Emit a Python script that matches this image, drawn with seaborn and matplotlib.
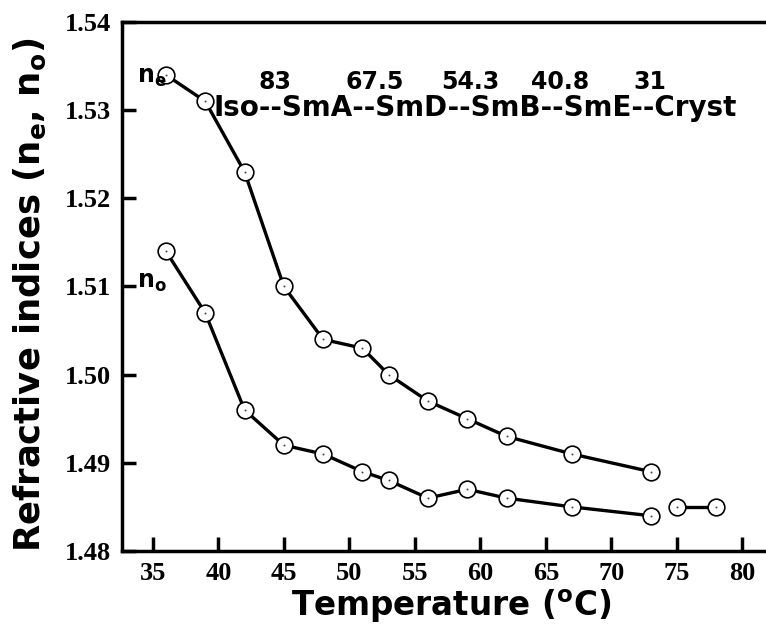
import numpy as np
import pandas as pd
import seaborn as sns
import matplotlib.pyplot as plt

# extraordinary index n_e
temp_ne = [36, 39, 42, 45, 48, 51, 53, 56, 59, 62, 67, 73]
n_e = [1.534, 1.531, 1.523, 1.510, 1.504, 1.503, 1.500, 1.497, 1.495, 1.493, 1.491, 1.489]

# ordinary index n_o (plus isotropic segment)
temp_no = [36, 39, 42, 45, 48, 51, 53, 56, 59, 62, 67, 73]
n_o = [1.514, 1.507, 1.496, 1.492, 1.491, 1.489, 1.488, 1.486, 1.487, 1.486, 1.485, 1.484]
temp_iso = [75, 78]
n_iso = [1.485, 1.485]

trans_temps = ["83", "67.5", "54.3", "40.8", "31"]
trans_x = [44.3, 51.9, 59.2, 66.1, 72.9]
phases = "Iso--SmA--SmD--SmB--SmE--Cryst"

sns.set_style("ticks")
plt.rcParams['font.family'] = ['DejaVu Sans']
plt.rcParams['text.color'] = 'black'
plt.rcParams['axes.labelcolor'] = 'black'
plt.rcParams['xtick.color'] = 'black'
plt.rcParams['ytick.color'] = 'black'
plt.rcParams['axes.edgecolor'] = 'black'

fig = plt.figure(figsize=(7.66, 6.37), dpi=100)
ax = fig.add_axes([0.159, 0.135, 0.841, 0.8305])

df = pd.concat([
    pd.DataFrame({"T": temp_ne, "n": n_e, "s": "ne"}),
    pd.DataFrame({"T": temp_no, "n": n_o, "s": "no"}),
    pd.DataFrame({"T": temp_iso, "n": n_iso, "s": "iso"}),
])

for name, grp in df.groupby("s"):
    sns.lineplot(data=grp, x="T", y="n", ax=ax, color="black", linewidth=2.4,
                 marker="o", markersize=12, markerfacecolor="white",
                 markeredgecolor="black", markeredgewidth=1.2, sort=False)
# small dot in the centre of each marker
sns.scatterplot(data=df, x="T", y="n", ax=ax, color="#444444", s=2, marker="o",
                linewidth=0, zorder=5)

ax.set_xlim(32.63, 81.8)
ax.set_ylim(1.48, 1.54)
ax.set_xticks([35, 40, 45, 50, 55, 60, 65, 70, 75, 80])
ax.set_yticks([1.48, 1.49, 1.50, 1.51, 1.52, 1.53, 1.54])
ax.set_yticklabels(["1.48", "1.49", "1.50", "1.51", "1.52", "1.53", "1.54"])

for lab in ax.get_xticklabels() + ax.get_yticklabels():
    lab.set_family("Liberation Serif")
    lab.set_fontweight("bold")
    lab.set_fontsize(19)

ax.tick_params(direction="in", length=10, width=2.5, pad=8)
ax.spines["right"].set_visible(False)
for s in ["left", "bottom", "top"]:
    ax.spines[s].set_linewidth(2.5)

ax.set_xlabel(r"Temperature ($^\mathregular{o}$C)", fontsize=23.5, fontweight="bold")
ax.set_ylabel(r"Refractive indices (n$_\mathregular{e}$, n$_\mathregular{o}$)", fontsize=25.5,
              fontweight="bold")
ax.xaxis.set_label_coords(0.512, -0.068)
ax.yaxis.set_label_coords(-0.114, 0.485)

ax.text(33.8, 1.5338, r"n$_\mathregular{e}$", fontsize=17, fontweight="bold", va="center", ha="left")
ax.text(33.8, 1.5105, r"n$_\mathregular{o}$", fontsize=17, fontweight="bold", va="center", ha="left")

for t, x in zip(trans_temps, trans_x):
    ax.text(x, 1.5332, t, fontsize=17, fontweight="bold", ha="center", va="center")
ax.text(39.6, 1.5302, phases, fontsize=20, fontweight="bold", ha="left", va="center")

fig.savefig("out.png", dpi=100)
